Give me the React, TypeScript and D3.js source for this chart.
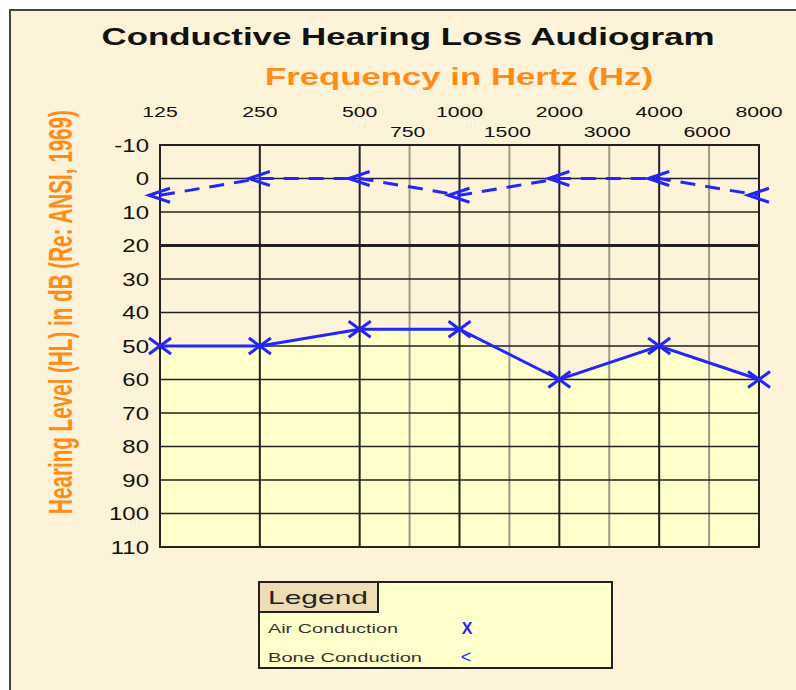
import React from 'react';
import * as d3 from 'd3';

// audiogram values
const freqs = [125, 250, 500, 1000, 2000, 4000, 8000];
const midFreqs = [750, 1500, 3000, 6000];
const airDb = [50, 50, 45, 45, 60, 50, 60];
const boneDb = [5, 0, 0, 5, 0, 0, 5];
const dbTicks = [-10, 0, 10, 20, 30, 40, 50, 60, 70, 80, 90, 100, 110];

const BG = '#fdf3d8';
const PALE = '#ffffcc';
const BLUE = '#2424ff';
const ORANGE = '#ff8c1a';
const FONT = '"Liberation Sans", Arial, sans-serif';
const SX = 1.37;

const App = () => {
  const x = d3.scaleLog().base(2).domain([125, 8000]).range([160, 759]);
  const y = d3.scaleLinear().domain([-10, 110]).range([145, 547]);

  // mid-octave lines sit half way between the octave lines
  const midX = (f: number) => (x(f / 1.5) + x((f * 4) / 3)) / 2;

  const air = freqs.map((f, i) => ({ f, db: airDb[i] }));
  const bone = freqs.map((f, i) => ({ f, db: boneDb[i] }));

  const line = d3.line<{ f: number; db: number }>().x(d => x(d.f)).y(d => y(d.db));
  const area = d3.area<{ f: number; db: number }>()
    .x(d => x(d.f)).y0(y(110)).y1(d => y(d.db));

  const stretched = (tx: number, ty: number, txt: string, size: number, anchor: string, fill = '#111', key?: string) => (
    <text key={key} transform={`translate(${tx},${ty}) scale(${SX},1)`} fontSize={size} textAnchor={anchor}
      fill={fill} fontFamily={FONT}>{txt}</text>
  );

  return (
    <svg width={796} height={690} style={{ position: 'absolute', left: 0, top: 0 }}>
      <rect x={0} y={0} width={796} height={690} fill="#fff" />
      <rect x={10} y={10} width={800} height={700} fill={BG} stroke="#444" strokeWidth={2} />

      <text x={408} y={45} fontSize={24} fontWeight="bold" fontFamily={FONT} textAnchor="middle"
        textLength={613} lengthAdjust="spacingAndGlyphs" fill="#111">Conductive Hearing Loss Audiogram</text>
      <text x={459} y={85} fontSize={24} fontWeight="bold" fontFamily={FONT} textAnchor="middle"
        textLength={388} lengthAdjust="spacingAndGlyphs" fill={ORANGE}>Frequency in Hertz (Hz)</text>
      <text transform="translate(72,312) rotate(-90) scale(0.607,1)" fontSize={34} fontWeight="bold" fontFamily={FONT}
        textAnchor="middle" fill={ORANGE}>
        Hearing Level (HL) in dB (Re: ANSI, 1969)
      </text>

      {/* plot area */}
      <path d={area(air) || ''} fill={PALE} />

      {midFreqs.map(f => (
        <line key={'m' + f} x1={midX(f)} x2={midX(f)} y1={y(-10)} y2={y(110)} stroke="#9a9a8a" strokeWidth={2} />
      ))}
      {dbTicks.map(d => (
        <line key={'h' + d} x1={x(125)} x2={x(8000)} y1={y(d)} y2={y(d)} stroke="#222"
          strokeWidth={d === 20 ? 3 : 1.5} />
      ))}
      {freqs.map(f => (
        <line key={'v' + f} x1={x(f)} x2={x(f)} y1={y(-10)} y2={y(110)} stroke="#222" strokeWidth={2} />
      ))}
      <rect x={x(125)} y={y(-10)} width={x(8000) - x(125)} height={y(110) - y(-10)} fill="none"
        stroke="#222" strokeWidth={2} />

      {freqs.map(f => stretched(x(f), 117, String(f), 15.5, 'middle', '#111', 'fl' + f))}
      {midFreqs.map(f => stretched(midX(f) - 2, 137, String(f), 15.5, 'middle', '#111', 'ml' + f))}
      {dbTicks.map(d => stretched(149, y(d) + 6.5, String(d), 17.5, 'end', '#111', 'yl' + d))}

      {/* bone conduction */}
      <path d={line(bone) || ''} fill="none" stroke={BLUE} strokeWidth={3} strokeDasharray="15 10" />
      {bone.map(p => (
        <path key={'b' + p.f} d={`M${x(p.f) + 10},${y(p.db) - 7}L${x(p.f) - 11},${y(p.db)}L${x(p.f) + 10},${y(p.db) + 7}`}
          fill="none" stroke={BLUE} strokeWidth={3} />
      ))}

      {/* air conduction */}
      <path d={line(air) || ''} fill="none" stroke={BLUE} strokeWidth={3} />
      {air.map(p => (
        <path key={'a' + p.f} d={`M${x(p.f) - 11},${y(p.db) - 8}L${x(p.f) + 11},${y(p.db) + 8}M${x(p.f) + 11},${y(p.db) - 8}L${x(p.f) - 11},${y(p.db) + 8}`}
          fill="none" stroke={BLUE} strokeWidth={3} />
      ))}

      {/* legend */}
      <rect x={259} y={582} width={353} height={86} fill={PALE} stroke="#222" strokeWidth={2} />
      <rect x={259} y={582} width={119} height={30} fill="#eedcb4" stroke="#222" strokeWidth={2} />
      <text x={268} y={604} fontSize={19} fontFamily={FONT} textLength={100} lengthAdjust="spacingAndGlyphs" fill="#222">Legend</text>
      <text x={268} y={633} fontSize={13} fontFamily={FONT} textLength={130} lengthAdjust="spacingAndGlyphs" fill="#333">Air Conduction</text>
      <text x={268} y={662} fontSize={13} fontFamily={FONT} textLength={154} lengthAdjust="spacingAndGlyphs" fill="#333">Bone Conduction</text>
      <text x={467} y={634} fontSize={16} fontWeight="bold" fontFamily={FONT} textAnchor="middle" fill={BLUE}>X</text>
      <text x={466} y={663} fontSize={18} fontFamily={FONT} textAnchor="middle" fill={BLUE}>&lt;</text>
    </svg>
  );
};

export default App;
